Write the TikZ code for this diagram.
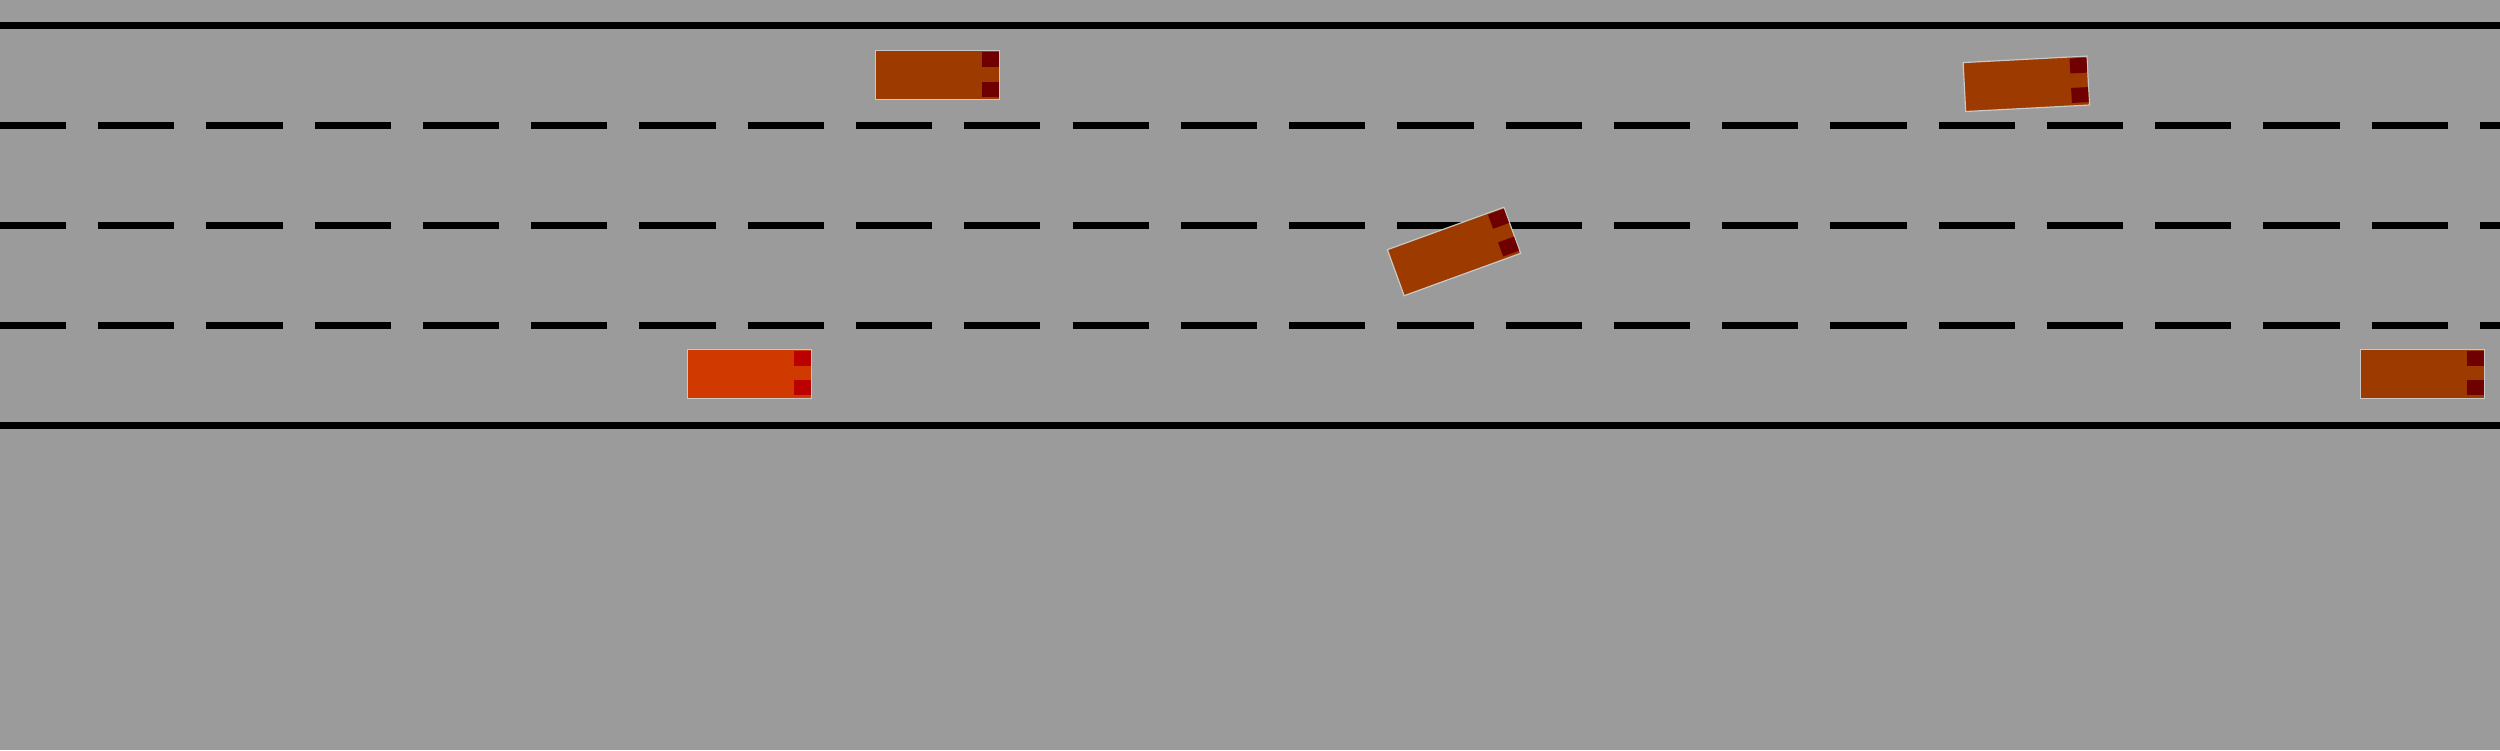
\documentclass[tikz,border=0pt]{standalone}
\usepackage{xcolor}
\usepackage{tikz}

\definecolor{road}{RGB}{155,155,155}
\definecolor{rim}{RGB}{200,200,200}
\definecolor{egobody}{RGB}{208,58,0}
\definecolor{egolamp}{RGB}{187,0,0}
\definecolor{carbody}{RGB}{156,58,0}
\definecolor{carlamp}{RGB}{112,0,0}

\tikzset{
  pics/car/.style 2 args={code={
    \filldraw[draw=rim, line width=1.2pt, fill=#1] (-62,-24.5) rectangle (62,24.5);
    \fill[#2] (44.5,-23) rectangle (61.4,-8);
    \fill[#2] (44.5,6.5) rectangle (61.4,21.5);
  }}
}

\begin{document}
\begin{tikzpicture}[x=1pt, y=-1pt, solidline/.style={line width=7pt}, laneline/.style={line width=7pt, dash pattern=on 76.2pt off 32.07pt, dash phase=10.2pt}]
\useasboundingbox (0,0) rectangle (2500,750);
\fill[road] (0,0) rectangle (2500,750);
% road edges and lane markings
\draw[solidline] (0,25.5) -- (2500,25.5);
\draw[solidline] (0,425.5) -- (2500,425.5);
\foreach \y in {125.5,225.5,325.5} \draw[laneline] (0,\y) -- (2500,\y);
% vehicles
\pic at (749.5,373.7) {car={egobody}{egolamp}};
\pic at (937.3,75) {car={carbody}{carlamp}};
\pic[rotate=20] at (1454,251.5) {car={carbody}{carlamp}};
\pic[rotate=3] at (2026.3,83.8) {car={carbody}{carlamp}};
\pic at (2422.3,373.8) {car={carbody}{carlamp}};
\end{tikzpicture}
\end{document}
